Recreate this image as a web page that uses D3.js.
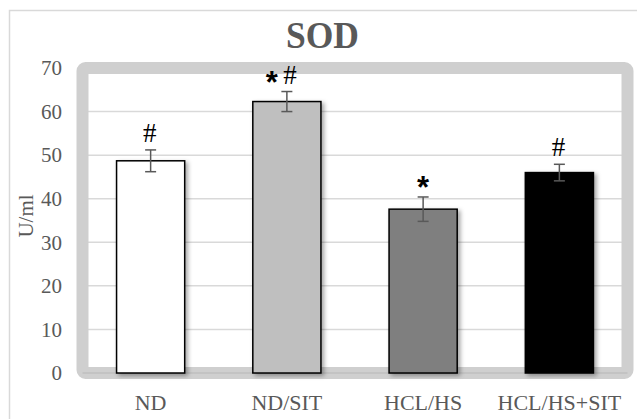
<!DOCTYPE html>
<html lang="en">
<head>
	<meta charset="UTF-8">
	<title>SOD</title>
	<script src="https://cdn.jsdelivr.net/npm/d3@7"></script>
	<style>
		body { margin: 0; background: #fff; }
		text { font-family: "Liberation Serif", "Times New Roman", serif; }
	</style>
</head>
<body>
	<div id="container"></div>
	<script>
		var groups = ["ND", "ND/SIT", "HCL/HS", "HCL/HS+SIT"];
		var values = [48.7, 62.3, 37.6, 46.0];
		var errors = [2.5, 2.3, 2.8, 1.9];
		var marks = ["#", "*#", "*", "#"];
		var fills = ["#ffffff", "#bfbfbf", "#7f7f7f", "#000000"];
		var yTicks = [0, 10, 20, 30, 40, 50, 60, 70];

		var width = 637;
		var height = 419;
		var pLeft = 82.5, pRight = 627.5, pTop = 68, pBottom = 373;

		var svg = d3.select("#container").append("svg")
				.attr("width", width)
				.attr("height", height);

		var defs = svg.append("defs");
		var f = defs.append("filter").attr("id", "shadow")
				.attr("x", "-20%").attr("y", "-20%")
				.attr("width", "140%").attr("height", "140%");
		f.append("feDropShadow")
				.attr("dx", 2.5).attr("dy", 2)
				.attr("stdDeviation", 2)
				.attr("flood-color", "#000")
				.attr("flood-opacity", 0.35);

		// outer chart border
		svg.append("rect")
				.attr("x", 9.5).attr("y", 10.5)
				.attr("width", 700).attr("height", 500)
				.attr("fill", "none")
				.attr("stroke", "#d9d9d9")
				.attr("stroke-width", 1.5);

		var x = d3.scaleBand()
				.domain(groups)
				.range([pLeft, pRight])
				.paddingInner(0.5)
				.paddingOuter(0.25);

		var y = d3.scaleLinear()
				.domain([0, 70])
				.range([pBottom, pTop]);

		// gridlines
		svg.selectAll(".grid").data(yTicks.slice(1, -1))
			.enter().append("line")
				.attr("x1", pLeft).attr("x2", pRight)
				.attr("y1", d => y(d)).attr("y2", d => y(d))
				.attr("stroke", "#d9d9d9")
				.attr("stroke-width", 1.5);

		// plot area frame
		svg.append("rect")
				.attr("x", pLeft).attr("y", pTop)
				.attr("width", pRight - pLeft).attr("height", pBottom - pTop)
				.attr("rx", 3)
				.attr("fill", "none")
				.attr("stroke", "#cfcfcf")
				.attr("stroke-width", 12);

		// axis line
		svg.append("line")
				.attr("x1", pLeft).attr("x2", pRight)
				.attr("y1", y(0)).attr("y2", y(0))
				.attr("stroke", "#bfbfbf")
				.attr("stroke-width", 1.5);

		// y axis
		var yAxis = svg.append("g")
				.attr("transform", "translate(62,0)")
				.call(d3.axisLeft(y).tickValues(yTicks).tickSize(0).tickPadding(0));
		yAxis.select(".domain").remove();
		yAxis.selectAll("text")
				.attr("fill", "#595959")
				.style("font-size", "21px")
				.style("font-family", "Liberation Serif");

		// bars
		svg.selectAll(".bar").data(groups)
			.enter().append("rect")
				.attr("x", d => x(d))
				.attr("y", (d, i) => y(values[i]))
				.attr("width", x.bandwidth())
				.attr("height", (d, i) => y(0) - y(values[i]))
				.attr("fill", (d, i) => fills[i])
				.attr("stroke", "#000")
				.attr("stroke-width", 1.5)
				.attr("filter", "url(#shadow)");

		// error bars
		var cx = d => x(d) + x.bandwidth() / 2;
		var eb = svg.selectAll(".err").data(groups)
			.enter().append("g")
				.attr("stroke", "#595959")
				.attr("stroke-width", 1.5);
		eb.append("line")
				.attr("x1", cx).attr("x2", cx)
				.attr("y1", (d, i) => y(values[i] + errors[i]))
				.attr("y2", (d, i) => y(values[i] - errors[i]));
		eb.append("line")
				.attr("x1", d => cx(d) - 5.5).attr("x2", d => cx(d) + 5.5)
				.attr("y1", (d, i) => y(values[i] + errors[i]))
				.attr("y2", (d, i) => y(values[i] + errors[i]));
		eb.append("line")
				.attr("x1", d => cx(d) - 5.5).attr("x2", d => cx(d) + 5.5)
				.attr("y1", (d, i) => y(values[i] - errors[i]))
				.attr("y2", (d, i) => y(values[i] - errors[i]));

		// significance marks, one text per character
		groups.forEach(function(g, i) {
			var chars = marks[i].split("");
			var errTop = y(values[i] + errors[i]);
			chars.forEach(function(c, k) {
				var dx = chars.length > 1 ? (k == 0 ? -15 : 3) : (c == "*" ? 0 : -1);
				if (c == "*") {
					svg.append("text")
						.attr("x", cx(g) + dx)
						.attr("y", errTop + 1)
						.attr("text-anchor", "middle")
						.attr("fill", "#000")
						.style("font-family", "Liberation Sans")
						.style("font-weight", "bold")
						.style("font-size", "31px")
						.text(c);
				} else {
					svg.append("text")
						.attr("x", cx(g) + dx)
						.attr("y", errTop - 8)
						.attr("text-anchor", "middle")
						.attr("fill", "#000")
						.style("font-size", "27px")
						.text(c);
				}
			});
		});

		// x labels
		svg.selectAll(".xlab").data(groups)
			.enter().append("text")
				.attr("x", cx)
				.attr("y", 410)
				.attr("text-anchor", "middle")
				.attr("fill", "#595959")
				.style("font-size", "22px")
				.text(d => d)
				.each(function() {
					var b = this.getBBox();
					if (b.x + b.width > 622) {
						d3.select(this).attr("x", +d3.select(this).attr("x") - (b.x + b.width - 622));
					}
				});

		// y title
		svg.append("text")
				.attr("transform", "translate(33,216) rotate(-90)")
				.attr("text-anchor", "middle")
				.attr("fill", "#595959")
				.style("font-size", "21px")
				.text("U/ml");

		// chart title
		svg.append("text")
				.attr("x", 322.5)
				.attr("y", 48)
				.attr("text-anchor", "middle")
				.attr("fill", "#595959")
				.style("font-size", "37px")
				.style("font-weight", "bold")
				.attr("textLength", 73)
				.attr("lengthAdjust", "spacingAndGlyphs")
				.text("SOD");
	</script>
</body>
</html>
